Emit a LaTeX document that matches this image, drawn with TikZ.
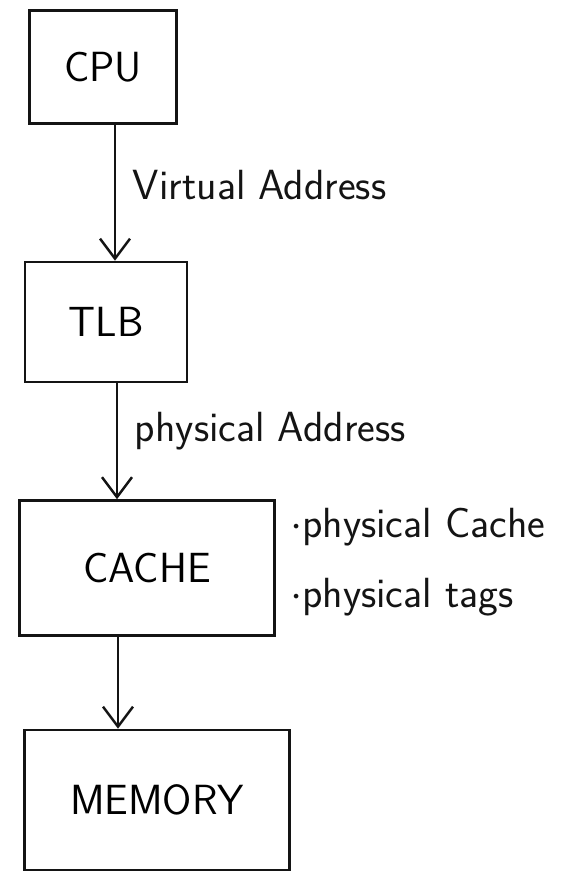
\documentclass[tikz,border=0pt]{standalone}
\usepackage{xcolor}
\usepackage{tikz}
\usetikzlibrary{arrows.meta,positioning}
\definecolor{ink}{RGB}{20,20,20}
\tikzset{
  unitbox/.style={rectangle, draw=ink, line width=1.5pt, fill=white,
                  align=center, font=\sffamily\fontsize{24}{28}\selectfont},
  arr/.style={-{Straight Barb[length=4mm,width=6mm]}, line width=1.4pt, color=ink},
  lbl/.style={font=\sffamily\fontsize{24}{28}\selectfont, color=ink, inner sep=1pt},
}
\begin{document}
\begin{tikzpicture}[x=0.2mm, y=-0.2mm]
  \useasboundingbox (0,0) rectangle (563,883);
  % the four units, top to bottom
  \node[unitbox, minimum width=29.4mm, minimum height=22.6mm] (cpu) at (103,67) {CPU};
  \node[unitbox, minimum width=32.4mm, minimum height=24mm] (tlb) at (106,322) {TLB};
  \node[unitbox, minimum width=51mm, minimum height=27mm] (cache) at (147,568) {CACHE};
  \node[unitbox, minimum width=53mm, minimum height=28mm] (mem) at (157,800) {MEMORY};
  % connectors
  \draw[arr] (cpu.south -| 115,0) -- (tlb.north -| 115,0)
    node[lbl, midway, right=3mm, yshift=1.5mm] (va) {Virtual Address};
  \draw[arr] (tlb.south -| 117,0) -- (cache.north -| 117,0)
    node[lbl, midway, right=3mm, yshift=2mm] (pa) {physical Address};
  \draw[arr] (cache.south -| 118,0) -- (mem.north -| 118,0);
  % notes beside the cache
  \node[lbl, anchor=west] (pc) at (288,527) {$\cdot$physical Cache};
  \node[lbl, anchor=west] (pt) at (288,597) {$\cdot$physical tags};
\end{tikzpicture}
\end{document}
